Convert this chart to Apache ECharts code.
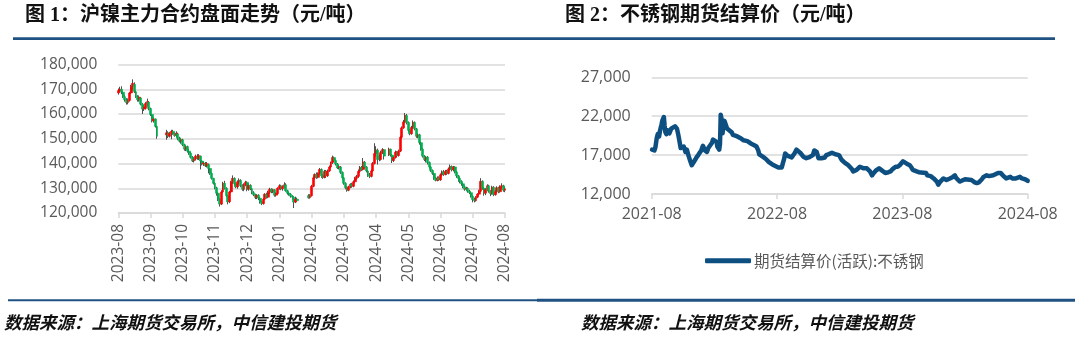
<!DOCTYPE html>
<html><head><meta charset="utf-8">
<script src="https://cdn.jsdelivr.net/npm/echarts/dist/echarts.min.js"></script>
<style>html,body{margin:0;padding:0;background:#fff}#c{width:1080px;height:343px}</style>
</head><body><div id="c"></div>
<script>
// ---------- Figure 1: SHFE nickel main contract, daily candles [open, close, low, high] (yuan/ton) ----------
const nickelXTickLabels = ['2023-08','2023-09','2023-10','2023-11','2023-12','2024-01','2024-02','2024-03','2024-04','2024-05','2024-06','2024-07','2024-08'];
const nickelYTicks = [120000, 180000, 10000]; // min, max, step
const seg0 = [
[168500,169500,167800,170300],[169500,170000,168800,171000],[170000,168800,168000,171200],[168800,167000,166500,169200],
[167000,165800,165000,167600],[165800,164600,163800,166400],[164600,165500,163900,166300],[165500,168500,165000,169000],
[168500,171200,168000,171800],[171200,172400,169800,174000],[172000,169000,168500,172800],[169000,167000,166500,169500],
[167000,165800,165000,167600],[165800,166800,165000,167500],[166500,164000,163500,166800],[164000,162000,160000,164400],
[162000,162800,161200,163600],[162300,164200,161800,164800],[164200,165000,163000,166200],[164800,162200,161500,165200]];
const seg1 = [
[162200,159800,159200,162600],[159800,157200,156600,160000],[157200,158000,156500,158600],[158000,155000,154500,158200],
[155000,151000,150000,155300],null,null,null,null,null,
[151500,152400,149600,153600],[152400,151000,150300,153000],[151000,152200,150500,152800],[152200,153000,149800,153600],
[153000,152000,151600,153600],[152000,151300,150800,152600],[151300,152300,150500,153000],[152000,150200,149400,152400],
[150200,149000,148500,150800],[149000,149600,148000,150400]];
const seg2 = [
[149600,147600,147000,150000],[147600,145800,145200,148000],[145800,146800,145000,147400],[146800,145000,144400,147200],
[145000,144200,143500,145800],[144200,142500,142000,144600],[142500,141000,140600,143000],[141000,141800,140400,142600],
[141800,143000,141200,143600],[143000,142000,141500,143800],[142000,143200,141400,143800],[143000,141000,137600,143200],
[141000,139800,139200,141400],[139800,140200,139000,140800],[140200,139000,138600,140600],[139000,140000,138400,140600],
[139600,138000,136000,140000],[138000,136000,135400,138200],[136000,134000,133500,136300],[134000,132000,131500,134200]];
const seg3 = [
[132000,130200,129600,132400],[130200,128000,127000,130600],[128000,125500,124800,128400],[125500,123600,122600,126000],
[123600,128500,123200,129200],[128500,132000,128000,132600],[132000,130000,129500,133000],[130000,127000,126500,130400],
[127000,124500,123500,127400],[124500,128500,124000,129000],[128500,132500,128000,133000],[132500,134000,131800,135200],
[134000,131800,131000,134400],[131800,130500,130000,132400],[130500,132600,129800,133200],[132600,133200,131500,134000],
[133200,131000,130400,133600],[131000,129600,129000,131600],[129600,131400,128800,132000],[131400,132400,130800,133000]];
const seg4 = [
[132400,129600,128800,132800],[129600,131200,129000,132000],[131200,129800,129200,131600],[129800,128200,127600,130200],
[128200,127400,126800,128800],[127400,126200,125600,127800],[126200,127200,125600,127600],[127200,126000,125200,127600],
[126000,124500,123800,126400],[124500,123800,123200,125000],[123800,125600,123400,126000],[125600,127600,125200,128000],
[127600,126400,125800,128200],[126400,128400,126000,129000],[128400,129600,127800,130200],[129600,128600,128000,130000],
[128600,129400,128000,129800],[129400,127200,126600,129600],[127200,128000,126600,128400],[127800,130000,127400,130400]];
const seg5 = [
[130000,131000,129400,131600],[131000,129800,129200,131400],[129800,130600,129000,131200],[130600,131400,130000,132400],
[131400,129000,128600,132000],[129000,128000,127400,129400],[128000,127600,127000,128600],[127600,126800,126200,128000],
[126800,126400,125400,127200],[126400,124400,122000,126800],[124400,125600,124000,126600],[125600,125000,124600,126200],
null,null,null,null,null,null,
[127000,126200,125800,127600],[126200,127000,125800,127600]];
const seg6 = [
[127000,130800,126600,131400],[130800,134200,130400,134800],[134200,135600,133600,136000],[135600,134400,133800,136400],
[134400,136000,134000,136400],[136000,137600,135400,138200],[137600,135000,134200,138000],[135000,134400,133800,135800],
[134400,136800,134000,137400],[136800,135000,134200,137400],[135000,137000,134600,137600],[137000,138600,136600,139200],
[138600,140400,138000,140800],[140400,142400,139800,143200],[142400,141200,140600,142800],[141200,139800,139200,141600],
[139800,138200,137800,140200],[138200,138800,137600,139400],[138600,136400,135800,139000],[136400,134200,133600,136800]];
const seg7 = [
[134200,132000,131400,134600],[132000,130200,129600,132400],[130200,129200,128600,130800],[129200,130600,128800,131000],
[130600,131600,130000,132000],[131600,130800,130200,132200],[130800,132600,130400,133200],[132600,134000,132000,134600],
[134000,134800,133400,135400],[134800,136800,134200,137600],[136800,138400,136200,139000],[138400,137600,137000,139000],
[137600,140600,137200,142200],[140600,138600,138000,141000],[138600,137000,136400,139000],[137000,135200,134600,137400],
[135200,134800,134100,136200],[134800,137000,134400,137600],[137000,140000,136600,140600],[140000,144000,139600,148200]];
const seg8 = [
[144000,145400,142800,147000],[145400,141600,139600,146000],[142800,141600,140900,143600],[141600,144400,141200,145200],
[144400,145600,143800,146200],[145600,143000,141600,145800],null,null,
[143400,145800,143000,146400],[145800,143400,142800,146000],[143400,141200,140200,143800],[141200,142400,140600,143000],
[142400,144600,142000,145200],[144600,143200,142600,145000],[143200,145000,142800,145600],[145000,150600,144600,151200],
[150600,154400,150000,155000],[154400,156800,154000,157600],[156800,159400,156200,160400],[159400,156600,155800,160000]];
const seg9 = [
[156600,153400,152600,157000],[153400,152000,151400,154000],[152000,154600,151600,155200],[154600,156600,154000,157400],
[156600,154000,153400,157000],[154000,151000,150400,154400],[151000,151600,150200,152200],[151600,148400,147600,152000],
[148400,145800,145200,148800],[145800,143000,142400,146200],[143000,141600,141000,143400],[141600,142600,140400,143000],
[142600,140400,139600,143000],[140400,138600,138000,140800],[138600,137200,136600,139000],[137200,136000,135400,137600],
[136000,134000,133400,136400],[134000,133200,132800,134600],[133200,134200,132800,134800],[134200,133400,133000,134800]];
const seg10 = [
[133400,135400,133000,136000],[135400,136600,134800,137200],[136600,135600,135000,137400],[135600,136800,135200,137400],
[136800,136000,135400,137400],[136000,137800,135600,138400],[137800,138800,137200,139600],[138800,137400,136800,139200],
[137400,138600,136800,139000],[138600,136600,136000,138900],[136600,135000,134200,137000],[135000,134000,132600,135400],
[134000,132800,132000,134400],[132800,131800,131000,133200],[131800,130600,130000,132200],[130600,129600,129000,131000],
[129600,130000,129000,130600],[130000,128800,128200,130400],[128800,128200,127600,129400],[128200,126800,126200,128600]];
const seg11 = [
[126800,125400,124300,127200],[125400,125000,124300,126200],[125000,126400,124600,126800],[126400,127600,126000,128000],
[127600,128800,127200,129400],[128800,132800,128400,134100],[132800,130000,129400,133200],[130000,128000,127000,130400],
[128000,129400,127200,130000],[129400,131000,129000,131600],[131000,128800,128200,131400],[128800,127800,126800,129200],
[127800,130400,127400,131000],[130400,127400,126800,130800],[127400,128600,127000,129200],[128600,130200,128000,130800],
[130200,128600,128000,130600],[128600,130600,128200,131200],[130600,131000,129800,132000],[131000,129200,128600,131400],
[129200,129800,128400,130800]];

// ---------- Figure 2: stainless steel futures settlement price (active), yuan/ton ----------
const ssName = '期货结算价(活跃):不锈钢';
const ssXTickLabels = ['2021-08','2022-08','2023-08','2024-08'];
const ssYTicks = [12000, 27000, 5000];
const ss2021 = [
['2021-08-02',17700],['2021-08-05',17900],['2021-08-09',17600],['2021-08-12',18000],['2021-08-16',19200],['2021-08-19',19700],
['2021-08-23',19400],['2021-08-26',20200],['2021-08-30',20900],['2021-09-02',21500],['2021-09-06',21900],['2021-09-08',20800],
['2021-09-10',20000],['2021-09-13',19700],['2021-09-16',20200],['2021-09-22',19800],['2021-09-27',20400],['2021-10-08',20700],
['2021-10-12',20900],['2021-10-14',20400],['2021-10-18',19600],['2021-10-21',18900],['2021-10-25',17900],['2021-10-29',17700],
['2021-11-03',18100],['2021-11-08',17400],['2021-11-12',17700],['2021-11-17',16900],['2021-11-22',16200],['2021-11-26',15700],
['2021-12-01',15900],['2021-12-06',16400],['2021-12-10',16700],['2021-12-15',17000],['2021-12-20',17200],['2021-12-24',17600],
['2021-12-29',18200]];
const ss2022 = [
['2022-01-04',17600],['2022-01-10',17400],['2022-01-14',17900],['2022-01-19',18100],['2022-01-25',18600],['2022-01-28',19000],
['2022-02-07',18700],['2022-02-09',18100],['2022-02-14',17700],['2022-02-16',18400],['2022-02-17',20000],['2022-02-18',22200],
['2022-02-21',21500],['2022-02-23',19800],['2022-02-25',20800],['2022-02-28',21400],['2022-03-03',21300],['2022-03-08',20400],
['2022-03-11',20600],['2022-03-14',20200],['2022-03-17',20300],['2022-03-22',19900],['2022-03-25',19600],['2022-03-29',19800],
['2022-04-01',19500],['2022-04-07',19400],['2022-04-12',19300],['2022-04-15',19200],['2022-04-20',19100],['2022-04-25',18900],
['2022-04-29',19000],['2022-05-06',18800],['2022-05-11',18700],['2022-05-16',18500],['2022-05-20',18500],['2022-05-25',18300],
['2022-05-30',18200],['2022-06-02',18100],['2022-06-07',17600],['2022-06-10',17100],['2022-06-15',16900],['2022-06-20',16800],
['2022-06-24',16600],['2022-06-29',16500],['2022-07-04',16300],['2022-07-08',16100],['2022-07-13',15900],['2022-07-18',15800],
['2022-07-22',15700],['2022-07-27',15600],['2022-08-01',15500],['2022-08-05',15400],['2022-08-10',15300],['2022-08-15',15400],
['2022-08-18',15900],['2022-08-22',16500],['2022-08-25',17200],['2022-08-30',17000],['2022-09-02',16900],['2022-09-07',16800],
['2022-09-13',16700],['2022-09-16',16600],['2022-09-21',17200],['2022-09-27',17700],['2022-10-10',17200],['2022-10-17',16800],
['2022-10-21',16700],['2022-10-26',16600],['2022-11-02',16700],['2022-11-07',16800],['2022-11-14',17000],['2022-11-18',17600],
['2022-11-21',17700],['2022-11-25',17400],['2022-11-30',16600],['2022-12-05',16400],['2022-12-09',16600],['2022-12-14',16800],
['2022-12-19',16700],['2022-12-23',17000],['2022-12-29',17100]];
const ss2023 = [
['2023-01-03',17200],['2023-01-09',17300],['2023-01-13',17400],['2023-01-19',17100],['2023-01-30',17000],['2023-02-02',16800],
['2023-02-06',16400],['2023-02-10',16200],['2023-02-15',16000],['2023-02-20',15900],['2023-02-24',15700],['2023-03-01',15500],
['2023-03-06',15200],['2023-03-10',14900],['2023-03-15',14700],['2023-03-20',15100],['2023-03-24',15300],['2023-03-30',15500],
['2023-04-04',15400],['2023-04-10',15300],['2023-04-14',15200],['2023-04-19',15300],['2023-04-24',15100],['2023-04-28',14900],
['2023-05-04',14400],['2023-05-09',14700],['2023-05-15',15000],['2023-05-19',15100],['2023-05-25',15300],['2023-05-31',15100],
['2023-06-05',14900],['2023-06-12',14700],['2023-06-16',14700],['2023-06-21',14800],['2023-06-27',14900],['2023-07-03',15200],
['2023-07-07',15300],['2023-07-12',15500],['2023-07-18',15500],['2023-07-24',15700],['2023-07-28',15900],['2023-08-03',16200],
['2023-08-08',16000],['2023-08-14',15900],['2023-08-18',15800],['2023-08-23',15700],['2023-08-28',15400],['2023-09-01',15100],
['2023-09-06',15000],['2023-09-12',14900],['2023-09-18',14800],['2023-09-22',14700],['2023-10-09',14700],['2023-10-13',14400],
['2023-10-18',14400],['2023-10-23',14300],['2023-10-27',14100],['2023-11-01',14000],['2023-11-06',13800],['2023-11-10',13600],
['2023-11-14',13200],['2023-11-20',13600],['2023-11-24',13800],['2023-11-29',14000],['2023-12-04',13900],['2023-12-08',13800],
['2023-12-13',13900],['2023-12-18',14000],['2023-12-22',14100],['2023-12-27',14200]];
const ss2024 = [
['2024-01-02',14400],['2024-01-05',14100],['2024-01-10',13900],['2024-01-16',13600],['2024-01-22',13700],['2024-01-26',13800],
['2024-02-01',13900],['2024-02-06',14000],['2024-02-19',13800],['2024-02-23',13600],['2024-02-28',13500],['2024-03-05',13400],
['2024-03-11',13500],['2024-03-15',13600],['2024-03-20',13900],['2024-03-25',14200],['2024-03-29',14300],['2024-04-03',14400],
['2024-04-10',14300],['2024-04-15',14400],['2024-04-22',14400],['2024-04-26',14500],['2024-05-06',14700],['2024-05-09',14900],
['2024-05-14',14700],['2024-05-20',14400],['2024-05-24',14200],['2024-05-30',14000],['2024-06-04',14100],['2024-06-11',14200],
['2024-06-17',14000],['2024-06-21',14100],['2024-06-27',14000],['2024-07-03',14100],['2024-07-09',14200],['2024-07-15',14000],
['2024-07-19',14100],['2024-07-24',13900],['2024-07-29',13800],['2024-08-01',13700]];

// ---------- build ----------
const nickelRows = [].concat(seg0,seg1,seg2,seg3,seg4,seg5,seg6,seg7,seg8,seg9,seg10,seg11);
const slotsPerTick = (nickelRows.length - 1) / (nickelXTickLabels.length - 1);
const wickData = [], bodyData = [];
nickelRows.forEach((r, i) => {
  if (!r) return;
  wickData.push([i, r[0], r[1], r[2], r[3]]);
  bodyData.push([i, r[0], r[1], Math.min(r[0], r[1]), Math.max(r[0], r[1])]);
});
function monthsSince(d) {
  const [y, m, dd] = d.split('-').map(Number);
  const dim = new Date(y, m, 0).getDate();
  return (y - 2021) * 12 + (m - 8) + (dd - 1) / dim;
}
const ssData = [].concat(ss2021, ss2022, ss2023, ss2024).map(p => [monthsSince(p[0]), p[1]]);

const GRAY = '#595959', GRID = '#d9d9d9', BLUE = '#0d4f80', RULE = '#1f5283';
const fmt = v => v.toLocaleString('en-US');
const LAT = '"Open Sans", sans-serif';
const TITLE_FONT = 'bold 20px "Liberation Serif", "Noto Sans CJK SC"';
const FOOT_FONT = 'italic bold 17.5px "Noto Sans CJK SC"';

const chart = echarts.init(document.getElementById('c'), null, {renderer: 'canvas'});
chart.setOption({
  animation: false,
  backgroundColor: '#fff',
  grid: [
    {left: 118.3, top: 64.5, width: 386.7, height: 148.5},
    {left: 651.7, top: 77.3, width: 376, height: 116.7}
  ],
  xAxis: [
    {gridIndex: 0, type: 'value', min: 0, max: nickelRows.length - 1, interval: slotsPerTick,
     axisLine: {show: true, lineStyle: {color: GRID, width: 1.5}},
     axisTick: {show: true, length: 5, lineStyle: {color: GRID, width: 1.5}},
     splitLine: {show: false},
     axisLabel: {rotate: 90, margin: 11, color: GRAY, fontSize: 15.5, fontFamily: LAT,
       formatter: v => nickelXTickLabels[Math.round(v / slotsPerTick)]}},
    {gridIndex: 1, type: 'value', min: 0, max: 36, interval: 12,
     axisLine: {show: true, lineStyle: {color: GRID, width: 1.5}},
     axisTick: {show: true, length: 5, lineStyle: {color: GRID, width: 1.5}},
     splitLine: {show: false},
     axisLabel: {margin: 12, color: GRAY, fontSize: 16, fontFamily: LAT,
       formatter: v => ssXTickLabels[Math.round(v / 12)]}}
  ],
  yAxis: [
    {gridIndex: 0, type: 'value', min: nickelYTicks[0], max: nickelYTicks[1], interval: nickelYTicks[2],
     axisLine: {show: false}, axisTick: {show: false},
     splitLine: {show: true, lineStyle: {color: GRID, width: 1.5}},
     axisLabel: {margin: 21, color: GRAY, fontSize: 15.5, fontFamily: LAT, formatter: fmt}},
    {gridIndex: 1, type: 'value', min: ssYTicks[0], max: ssYTicks[1], interval: ssYTicks[2],
     axisLine: {show: false}, axisTick: {show: false},
     splitLine: {show: true, lineStyle: {color: GRID, width: 1.5}},
     axisLabel: {margin: 21, color: GRAY, fontSize: 16, fontFamily: LAT, formatter: fmt}}
  ],
  legend: {
    data: [ssName], left: 700, top: 248, itemWidth: 46, itemHeight: 5, icon: 'roundRect', itemGap: 0,
    textStyle: {color: GRAY, fontSize: 15.5, fontFamily: '"Noto Sans CJK SC", sans-serif', padding: [0, 0, 0, -2]}
  },
  series: [
    {name: 'wick', type: 'candlestick', xAxisIndex: 0, yAxisIndex: 0, data: wickData, barWidth: 1, clip: false,
     itemStyle: {color: '#505050', color0: '#505050', borderColor: '#505050', borderColor0: '#505050', borderWidth: 1}},
    {name: 'body', type: 'candlestick', xAxisIndex: 0, yAxisIndex: 0, data: bodyData, barWidth: 2.4, clip: false,
     itemStyle: {color: '#ff0000', color0: '#00b050', borderColor: '#ff0000', borderColor0: '#00b050', borderWidth: 0.6}},
    {name: ssName, type: 'line', xAxisIndex: 1, yAxisIndex: 1, data: ssData, showSymbol: false, symbol: 'none', clip: false,
     color: BLUE, lineStyle: {color: BLUE, width: 4.5, cap: 'round', join: 'round'}}
  ],
  graphic: [
    {type: 'text', z: 10, style: {x: 25, y: 16, verticalAlign: 'middle', text: '图 1：沪镍主力合约盘面走势（元/吨）',
      font: TITLE_FONT, fill: '#111'}},
    {type: 'text', z: 10, style: {x: 565, y: 16, verticalAlign: 'middle', text: '图 2：不锈钢期货结算价（元/吨）',
      font: TITLE_FONT, fill: '#111'}},
    {type: 'rect', z: 10, shape: {x: 13, y: 37.3, width: 1042, height: 2.7}, style: {fill: RULE}},
    {type: 'rect', z: 10, shape: {x: 8, y: 299.3, width: 529, height: 2}, style: {fill: RULE}},
    {type: 'rect', z: 10, shape: {x: 537, y: 298.8, width: 538, height: 3}, style: {fill: RULE}},
    {type: 'text', z: 10, style: {x: 4, y: 322, verticalAlign: 'middle', text: '数据来源：上海期货交易所，中信建投期货',
      font: FOOT_FONT, fill: '#111'}},
    {type: 'text', z: 10, style: {x: 581, y: 322, verticalAlign: 'middle', text: '数据来源：上海期货交易所，中信建投期货',
      font: FOOT_FONT, fill: '#111'}}
  ]
});
</script></body></html>
